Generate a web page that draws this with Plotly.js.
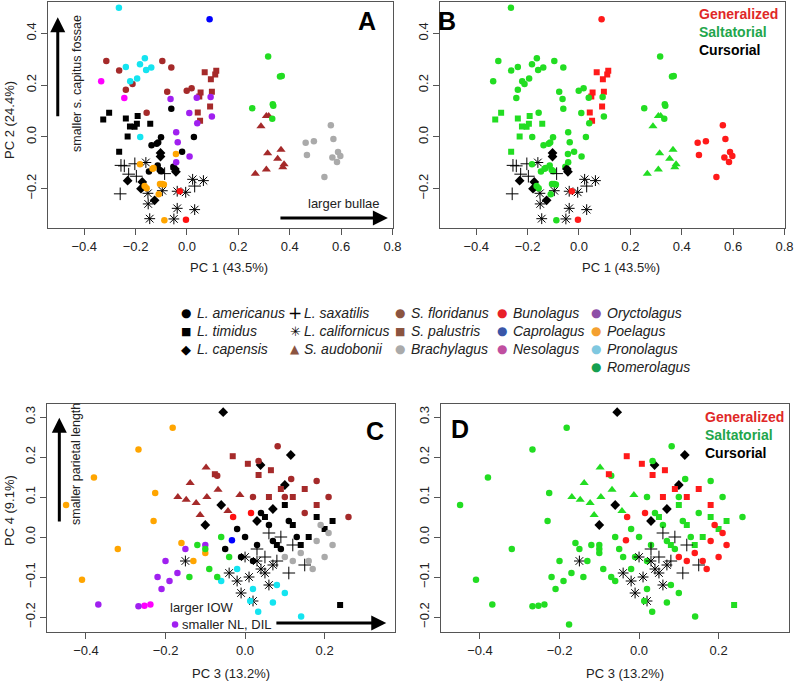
<!DOCTYPE html>
<html><head><meta charset="utf-8">
<script src="https://cdn.plot.ly/plotly-3.0.1.min.js"></script>
<style>html,body{margin:0;padding:0;background:#fff}</style>
</head><body><div id="chart" style="width:794px;height:682px"></div>
<script>
// ---------- DATA: PC1 / PC2 (panels A, B) ----------
const amer_A = [[-0.061,0.109],[-0.101,-0.001],[-0.138,-0.032],[-0.112,-0.022],[-0.118,-0.027],[0.027,0.000],[-0.019,-0.057],[-0.114,-0.111],[-0.106,-0.128],[-0.100,-0.133],[-0.148,-0.134],[-0.053,-0.115]];
const timi_A = [[-0.303,0.093],[-0.326,0.067],[-0.238,0.071],[-0.192,0.081],[-0.222,0.040],[-0.204,0.039],[-0.195,0.051],[-0.143,0.051],[-0.231,0.001],[-0.264,-0.057]];
const cape_A = [[-0.103,-0.062],[-0.103,-0.076],[-0.231,-0.169],[-0.174,-0.174],[-0.179,-0.200],[-0.126,-0.245],[-0.047,-0.124],[-0.043,-0.135]];
const saxa_A = [[-0.257,-0.110],[-0.244,-0.112],[-0.203,-0.104],[-0.227,-0.144],[-0.197,-0.152],[-0.087,-0.142],[0.030,-0.190],[-0.260,-0.220]];
const cali_A = [[-0.160,-0.099],[0.022,-0.164],[0.064,-0.169],[-0.152,-0.218],[-0.096,-0.208],[-0.038,-0.210],[-0.005,-0.214],[-0.151,-0.259],[-0.038,-0.276],[0.030,-0.281],[-0.145,-0.316],[-0.051,-0.317]];
const audo_A = [[0.309,0.081],[0.318,0.081],[0.288,0.041],[0.314,-0.063],[0.366,-0.050],[0.353,-0.084],[0.378,-0.106],[0.373,-0.117],[0.309,-0.126],[0.266,-0.142]];
const flor_A = [[-0.314,0.293],[-0.264,0.256],[-0.096,0.293],[-0.061,0.268],[-0.212,0.204],[-0.238,0.182],[-0.077,0.174],[-0.001,0.178],[0.018,0.188],[-0.157,0.093]];
const palu_A = [[0.069,0.250],[0.114,0.255],[0.110,0.241],[0.093,0.223],[0.053,0.171],[0.097,0.174],[0.048,0.156],[0.090,0.117],[0.042,0.094],[0.051,0.062]];
const brac_A = [[0.560,0.045],[0.570,-0.008],[0.462,-0.023],[0.494,-0.017],[0.467,-0.070],[0.588,-0.058],[0.597,-0.074],[0.566,-0.080],[0.584,-0.097],[0.535,-0.155]];
const buno_A = [[-0.028,-0.210],[-0.004,-0.320]];
const capr_A = [[0.088,0.454]];
const neso_A = [[-0.334,0.215],[-0.244,0.150]];
const oryc_A = [[-0.064,0.146],[0.038,0.151],[0.092,0.154],[0.009,0.092],[0.097,0.079],[0.040,0.053],[-0.042,0.018],[-0.036,-0.021],[0.010,-0.076],[-0.042,-0.098]];
const poel_A = [[-0.043,-0.066],[-0.183,-0.106],[-0.134,-0.123],[-0.130,-0.120],[-0.165,-0.190],[-0.157,-0.198],[-0.105,-0.182],[-0.097,-0.182],[-0.090,-0.184],[-0.110,-0.222],[-0.088,-0.322]];
const pron_A = [[-0.265,0.499],[-0.238,0.270],[-0.183,0.281],[-0.164,0.304],[-0.159,0.258],[-0.139,0.268],[-0.221,0.215],[-0.194,0.226],[-0.182,0.000]];
const rome_A = [[0.316,0.311],[0.362,0.233],[0.369,0.235],[0.254,0.111],[0.334,0.126],[0.336,0.120],[0.332,0.070]];

// ---------- DATA: PC3 / PC4 (panels C, D) ----------
const amer_C = [[0.000,0.000],[0.030,-0.020],[-0.020,0.020],[0.060,0.030],[0.090,-0.030],[0.040,0.060],[-0.050,-0.030],[0.110,0.040],[0.130,0.000],[0.020,-0.060],[0.070,-0.010],[-0.010,-0.050]];
const timi_C = [[0.239,-0.170],[0.160,0.000],[0.200,0.020],[0.140,-0.020],[0.180,0.050],[0.220,0.040],[0.120,0.030],[0.100,0.080],[0.050,0.050],[0.080,-0.020]];
const cape_C = [[-0.055,0.312],[0.039,0.180],[0.115,0.205],[-0.100,0.030],[-0.060,0.080],[0.070,0.070],[0.100,0.130],[0.030,0.040]];
const saxa_C = [[0.050,-0.050],[0.120,-0.020],[0.090,0.000],[0.150,-0.070],[0.080,-0.060],[0.030,-0.030],[0.110,-0.090],[0.060,0.010]];
const cali_C = [[-0.150,-0.060],[-0.020,-0.110],[0.010,-0.100],[0.040,-0.080],[-0.010,-0.140],[0.060,-0.120],[0.020,-0.160],[0.030,-0.060],[0.000,-0.050],[0.050,-0.090],[-0.040,-0.090],[0.070,-0.070]];
const audo_C = [[-0.098,0.174],[-0.138,0.135],[-0.169,0.100],[-0.148,0.093],[-0.096,0.100],[-0.123,0.085],[-0.043,0.065],[-0.068,0.118],[-0.013,0.105],[-0.113,0.055]];
const flor_C = [[0.082,0.227],[0.034,0.190],[-0.070,0.153],[0.116,0.145],[0.100,0.100],[0.180,0.140],[0.210,0.100],[0.260,0.050],[0.150,0.060],[0.020,0.100]];
const palu_C = [[-0.031,0.202],[0.007,0.183],[0.065,0.167],[0.034,0.155],[-0.076,0.157],[0.090,0.120],[0.120,0.100],[0.150,0.120],[0.060,0.100],[0.180,0.080]];
const brac_C = [[0.180,-0.010],[0.220,-0.020],[0.200,-0.050],[0.160,-0.060],[0.140,-0.040],[0.190,0.030],[0.120,-0.060],[0.210,0.010],[0.100,-0.050],[0.170,-0.080]];
const buno_C = [[-0.030,0.050],[0.015,0.060]];
const capr_C = [[-0.033,-0.008]];
const neso_C = [[-0.253,-0.172],[-0.238,-0.169]];
const oryc_C = [[-0.369,-0.169],[-0.268,-0.173],[-0.176,-0.219],[-0.200,-0.060],[-0.220,-0.100],[-0.190,-0.110],[-0.210,-0.130],[-0.150,-0.030],[-0.100,-0.020],[-0.170,-0.090]];
const poel_C = [[-0.182,0.273],[-0.268,0.219],[-0.380,0.149],[-0.226,0.110],[-0.450,0.080],[-0.320,-0.030],[-0.410,-0.107],[-0.230,0.040],[-0.160,-0.015],[-0.130,-0.060],[-0.100,-0.040]];
const pron_C = [[0.013,-0.160],[0.070,-0.164],[0.033,-0.187],[0.141,-0.199],[-0.060,-0.110],[0.020,-0.130],[0.080,-0.120],[-0.020,-0.080],[0.100,-0.140]];
const rome_C = [[-0.120,-0.020],[-0.090,-0.080],[-0.070,-0.100],[-0.140,-0.100],[-0.040,-0.050],[-0.100,-0.030],[-0.060,0.000]];

// ---------- categories ----------
const speciesNames = ['L. americanus','L. timidus','L. capensis','L. saxatilis','L. californicus','S. audobonii','S. floridanus','S. palustris','Brachylagus','Bunolagus','Caprolagus','Nesolagus','Oryctolagus','Poelagus','Pronolagus','Romerolagus'];
const speciesA = [amer_A,timi_A,cape_A,saxa_A,cali_A,audo_A,flor_A,palu_A,brac_A,buno_A,capr_A,neso_A,oryc_A,poel_A,pron_A,rome_A];
const speciesC = [amer_C,timi_C,cape_C,saxa_C,cali_C,audo_C,flor_C,palu_C,brac_C,buno_C,capr_C,neso_C,oryc_C,poel_C,pron_C,rome_C];
const speciesSymbol = ['circle','square','diamond','plus','asterisk','triangle','circle','square','circle','circle','circle','circle','circle','circle','circle','circle'];
const speciesColor = ['#000000','#000000','#000000','#000000','#000000','#a52a2a','#a52a2a','#a52a2a','#aaaaaa','#ff1010','#0000ff','#ff00ff','#a020f0','#ffa500','#14e4f0','#22dd22'];
const legendColor = ['#000000','#000000','#000000','#000000','#000000','#8b5440','#8b5440','#8b5440','#aaaaaa','#e8202a','#3a56a8','#c04fa0','#8e4fa6','#f4a030','#7fc8e0','#15a050'];
const speciesGroup = ['S','S','C','C','C','S','S','G','G','G','G','S','S','S','S','S'];
const groupNames = ['Generalized','Saltatorial','Cursorial'];
const groupColor = {G:'#ff1a1a', S:'#22dd22', C:'#000000'};
const groupTextColor = ['#e02828','#1fa64c','#000000'];

const FONT = 'Liberation Sans, Arial, Helvetica, sans-serif';

function markerFor(sym, color){
  if(sym==='plus') return {symbol:'cross-thin-open', size:9, color:color, line:{width:1, color:color}};
  if(sym==='asterisk') return {symbol:'asterisk-open', size:9, color:color, line:{width:1, color:color}};
  if(sym==='square') return {symbol:'square', size:6, color:color, line:{width:0}};
  if(sym==='diamond') return {symbol:'diamond', size:7.5, color:color, line:{width:0}};
  if(sym==='triangle') return {symbol:'triangle-up', size:8, color:color, line:{width:0}};
  return {symbol:'circle', size:6.5, color:color, line:{width:0}};
}

const traces = [];
const panels = [
  {data:speciesA, xa:'x', ya:'y', byGroup:false},
  {data:speciesA, xa:'x2', ya:'y2', byGroup:true},
  {data:speciesC, xa:'x3', ya:'y3', byGroup:false},
  {data:speciesC, xa:'x4', ya:'y4', byGroup:true}
];
panels.forEach(p=>{
  speciesNames.forEach((nm,i)=>{
    const pts = p.data[i];
    const col = p.byGroup ? groupColor[speciesGroup[i]] : speciesColor[i];
    traces.push({
      type:'scatter', mode:'markers', name:nm, showlegend:false, hoverinfo:'skip',
      x: pts.map(d=>d[0]), y: pts.map(d=>d[1]),
      xaxis:p.xa, yaxis:p.ya,
      marker: markerFor(speciesSymbol[i], col)
    });
  });
});

const W=794, H=682;
const px = v=>v/W, py = v=>1-v/H;
function axis(dom, range, dtick, isY, anchor){
  const a = {
    domain:dom, range:range, autorange:false, anchor:anchor, showgrid:false, zeroline:false,
    showline:true, mirror:true, linecolor:'#555', linewidth:1,
    ticks:'outside', ticklen:6, tickwidth:1, tickcolor:'#555',
    tickmode:'linear', tick0:0, dtick:dtick, tickformat:'.1f',
    tickfont:{family:FONT, size:13, color:'#222'},
    automargin:false, fixedrange:true
  };
  if(isY) a.tickangle = -90;
  return a;
}
const rangeXA = [-0.541,0.802], rangeYA = [-0.352,0.523];
const rangeXC = [-0.498,0.377], rangeYC = [-0.2375,0.3325];

const layout = {
  width:W, height:H, margin:{l:0,r:0,t:0,b:0}, paper_bgcolor:'#fff', plot_bgcolor:'#fff',
  showlegend:false, font:{family:FONT, color:'#222'},
  xaxis: axis([px(48),px(393)], rangeXA, 0.2, false, 'y'),
  yaxis: axis([py(228),py(1.5)], rangeYA, 0.2, true, 'x'),
  xaxis2: axis([px(440),px(785)], rangeXA, 0.2, false, 'y2'),
  yaxis2: axis([py(228),py(1.5)], rangeYA, 0.2, true, 'x2'),
  xaxis3: axis([px(47),px(395)], rangeXC, 0.2, false, 'y3'),
  yaxis3: axis([py(632),py(404)], rangeYC, 0.1, true, 'x3'),
  xaxis4: axis([px(441),px(789)], rangeXC, 0.2, false, 'y4'),
  yaxis4: axis([py(632),py(404)], rangeYC, 0.1, true, 'x4'),
  annotations: []
};
const ann = layout.annotations;
function T(x,y,text,opt){ ann.push(Object.assign({xref:'paper',yref:'paper',x:px(x),y:py(y),text:text,showarrow:false,xanchor:'center',yanchor:'middle',font:{family:FONT,size:13,color:'#222'}},opt||{})); }

// axis titles
T(229,267,'PC 1 (43.5%)');
T(621,267,'PC 1 (43.5%)');
T(9,120,'PC 2 (24.4%)',{textangle:-90});
T(231,673,'PC 3 (13.2%)');
T(625,673,'PC 3 (13.2%)');
T(9,511,'PC 4 (9.1%)',{textangle:-90});

// panel letters
const bold24 = {family:FONT,size:25,color:'#000'};
T(367,21,'<b>A</b>',{font:bold24});
T(447,21,'<b>B</b>',{font:bold24});
T(375,431,'<b>C</b>',{font:bold24});
T(460,429,'<b>D</b>',{font:bold24});

// locomotion legends in B and D
groupNames.forEach((g,i)=>{
  T(697,14+18*i,'<b>'+g+'</b>',{xanchor:'left',font:{family:FONT,size:14,color:groupTextColor[i]}});
  T(703,417+18*i,'<b>'+g+'</b>',{xanchor:'left',font:{family:FONT,size:14,color:groupTextColor[i]}});
});

// arrows + labels, panel A
ann.push({xref:'x',yref:'y',axref:'x',ayref:'y',x:-0.503,y:0.462,ax:-0.503,ay:0.074,text:'',showarrow:true,arrowhead:2,arrowsize:1,arrowwidth:3,arrowcolor:'#000'});
T(77,84,'smaller s. capitus fossae',{textangle:-90,font:{family:FONT,size:12.5,color:'#222'}});
ann.push({xref:'x',yref:'y',axref:'x',ayref:'y',x:0.782,y:-0.313,ax:0.358,ay:-0.313,text:'',showarrow:true,arrowhead:2,arrowsize:1,arrowwidth:3,arrowcolor:'#000'});
T(344,204,'larger bullae');
// arrows + labels, panel C
ann.push({xref:'x3',yref:'y3',axref:'x3',ayref:'y3',x:-0.467,y:0.298,ax:-0.467,ay:0.035,text:'',showarrow:true,arrowhead:2,arrowsize:1,arrowwidth:3,arrowcolor:'#000'});
T(76,464,'smaller parietal length',{textangle:-90,font:{family:FONT,size:12.5,color:'#222'}});
ann.push({xref:'x3',yref:'y3',axref:'x3',ayref:'y3',x:0.355,y:-0.215,ax:0.075,ay:-0.215,text:'',showarrow:true,arrowhead:2,arrowsize:1,arrowwidth:3,arrowcolor:'#000'});
T(202,607,'larger IOW');
T(227,624,'smaller NL, DIL');

// species legend (middle)
const legGlyph = {circle:'\u25CF', square:'\u25A0', diamond:'\u25C6', plus:'+', asterisk:'\u2733', triangle:'\u25B2'};
const legGlyphSize = {circle:12, square:11, diamond:13, plus:17, asterisk:13, triangle:12};
const legCols = [[0,1,2],[3,4,5],[6,7,8],[9,10,11],[12,13,14,15]];
const colMarkX = [186,295,400,502,596];
const colTextX = [195,302,409,511,605];
const rowY = [313,331,349,367];
legCols.forEach((col,ci)=>{
  col.forEach((si,ri)=>{
    const sym = speciesSymbol[si];
    T(colMarkX[ci],rowY[ri],legGlyph[sym],{font:{family:'DejaVu Sans',size:legGlyphSize[sym],color:legendColor[si]}});
    T(colTextX[ci],rowY[ri],'<i>'+speciesNames[si]+'</i>',{xanchor:'left',font:{family:FONT,size:14,color:'#222'}});
  });
});

Plotly.newPlot('chart', traces, layout, {staticPlot:true, displayModeBar:false});
</script></body></html>
